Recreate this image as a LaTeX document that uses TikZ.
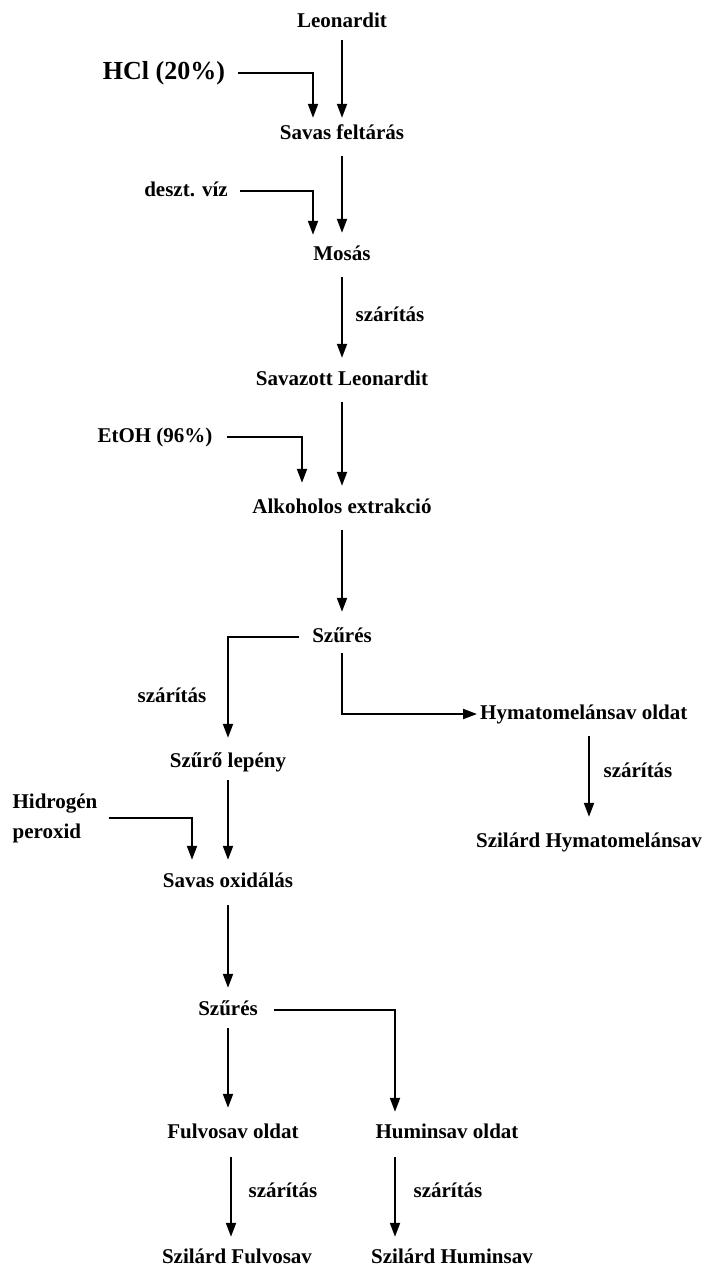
\documentclass[tikz,border=0pt]{standalone}
\usepackage{fontspec}
\setmainfont{Liberation Serif}
\usetikzlibrary{arrows.meta,calc}
\tikzset{
  t/.style={font=\bfseries\fontsize{21}{24}\selectfont, inner xsep=3pt, inner ysep=0pt, text height=14pt, text depth=4pt},
  big/.style={t, font=\bfseries\fontsize{26}{28}\selectfont, text height=17pt, text depth=5pt},
  tip/.style={-{Triangle[length=14pt,width=10pt]}},
  arr/.style={line width=2pt, tip, shorten <=13pt, shorten >=13pt},
  feed/.style={line width=2pt, tip, shorten <=10pt, shorten >=13pt}
}
\begin{document}
\begin{tikzpicture}[x=1pt,y=-1pt]
\useasboundingbox[fill=white] (0,0) rectangle (706,1267);
% main column
\node[t] (leo) at (342,22) {Leonardit};
\node[big] (hcl) at (164,73) {HCl (20\%)};
\node[t] (sf) at (342,134) {Savas feltárás};
\node[t] (dv) at (186,191) {deszt. víz};
\node[t] (mos) at (342,255) {Mosás};
\node[t] (sz1l) at (390,316) {szárítás};
\node[t] (sl) at (342,380) {Savazott Leonardit};
\node[t] (etoh) at (155,437) {EtOH (96\%)};
\node[t] (ae) at (342,508) {Alkoholos extrakció};
\node[t] (szu1) at (342,637) {Szűrés};
\node[t] (sz2l) at (172,697) {szárítás};
\node[t, anchor=west] (hym) at (477,714) {Hymatomelánsav oldat};
\node[t] (szl) at (228,762) {Szűrő lepény};
\node[t] (sz3l) at (638,772) {szárítás};
\node[t, font=\bfseries\fontsize{21}{30}\selectfont, align=left, text height=, text depth=, inner ysep=0pt] (hp) at (55,818) {Hidrogén\\peroxid};
\node[t] (szhy) at (589,842) {Szilárd Hymatomelánsav};
\node[t] (so) at (228,882) {Savas oxidálás};
\node[t] (szu2) at (228,1010) {Szűrés};
\node[t] (fo) at (233,1133) {Fulvosav oldat};
\node[t] (ho) at (447,1133) {Huminsav oldat};
\node[t] (sz4l) at (283,1192) {szárítás};
\node[t] (sz5l) at (448,1192) {szárítás};
\node[t] (szf) at (237,1258) {Szilárd Fulvosav};
\node[t] (szh) at (452,1258) {Szilárd Huminsav};

% main arrows
\draw[arr, shorten <=9pt, shorten >=7pt] (leo.south) -- (sf.north);
\draw[arr] (sf.south) -- (mos.north);
\draw[arr] (mos.south) -- (sl.north);
\draw[arr] (sl.south) -- (ae.north);
\draw[arr, shorten >=16pt] (ae.south) -- (szu1.north);

% feeds
\draw[feed, shorten >=7pt] (hcl.east) -| ($(sf.north)+(-29,0)$);
\draw[feed, shorten <=9pt, shorten >=11pt] (dv.east) -| ($(mos.north)+(-29,0)$);
\draw[feed, shorten <=11pt, shorten >=16pt] (etoh.east) -| ($(ae.north)+(-40,0)$);
\draw[feed, shorten <=8pt, shorten >=13pt] (hp.east) -| ($(so.north)+(-36,0)$);

% Szűrés 1 branches
\draw[feed, shorten <=10pt, shorten >=15pt] (szu1.west) -| (szl.north);
\draw[line width=2pt, tip, shorten <=7pt] (szu1.south) |- (hym.west);
\draw[arr, shorten <=13pt, shorten >=16pt] (hym.south -| szhy.north) -- (szhy.north);

\draw[arr, shorten <=9pt, shorten >=13pt] (szl.south) -- (so.north);
\draw[arr, shorten <=14pt, shorten >=13pt] (so.south) -- (szu2.north);

% Szűrés 2 branches
\draw[arr, shorten <=9pt, shorten >=16pt] (szu2.south) -- (szu2.south |- fo.north);
\coordinate (hin) at ($(ho.north)+(-52,0)$);
\draw[feed, shorten <=13pt, shorten >=12pt] (szu2.east) -| (hin);
\coordinate (fox) at ($(fo.south)+(-2,0)$);
\draw[arr, shorten <=15pt, shorten >=12pt] (fox) -- (fox |- szf.north);
\coordinate (hox) at ($(ho.south)+(-52,0)$);
\draw[arr, shorten <=15pt, shorten >=12pt] (hox) -- (hox |- szh.north);
\end{tikzpicture}
\end{document}
